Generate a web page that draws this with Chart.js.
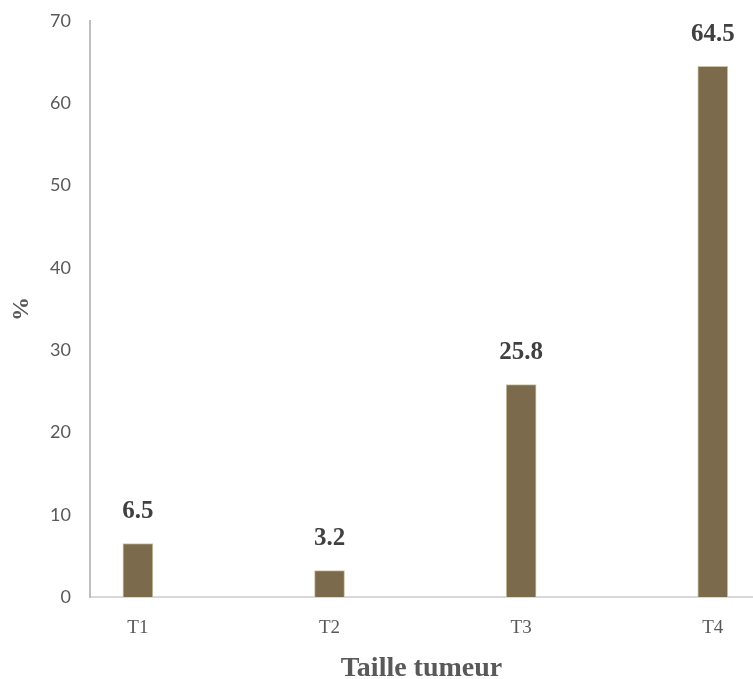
<!DOCTYPE html>
<html>
<head>
<meta charset="utf-8">
<script src="https://cdn.jsdelivr.net/npm/chart.js@4/dist/chart.umd.min.js"></script>
<style>
  html, body { margin: 0; padding: 0; background: #ffffff; }
  #c { display: block; }
</style>
</head>
<body>
<canvas id="c" width="753" height="679"></canvas>
<script>
const categories = ["T1", "T2", "T3", "T4"];
const percentages = [6.5, 3.2, 25.8, 64.5];
const valueLabels = ["6.5", "3.2", "25.8", "64.5"];
const yTicks = [0, 10, 20, 30, 40, 50, 60, 70];
const xTitle = "Taille tumeur";
const yTitle = "%";

const points = categories.map((c, i) => ({ x: i, y: percentages[i] }));

const labelPlugin = {
  id: 'valueLabels',
  afterDatasetsDraw(chart) {
    const ctx = chart.ctx;
    const meta = chart.getDatasetMeta(0);
    ctx.save();
    ctx.font = 'bold 25px "Liberation Serif", "DejaVu Serif", serif';
    ctx.fillStyle = '#404040';
    ctx.textAlign = 'center';
    ctx.textBaseline = 'middle';
    meta.data.forEach((bar, i) => {
      ctx.fillText(valueLabels[i], bar.x, bar.y - 32);
    });
    ctx.restore();
  }
};

new Chart(document.getElementById('c'), {
  type: 'bar',
  data: {
    datasets: [{
      data: points,
      backgroundColor: '#7b6a4b',
      borderColor: '#cfc4a8',
      borderWidth: 1,
      barThickness: 30
    }]
  },
  options: {
    responsive: false,
    animation: false,
    devicePixelRatio: 1,
    layout: { padding: { top: 21, right: 0, bottom: 0, left: 0 } },
    plugins: {
      legend: { display: false },
      tooltip: { enabled: false }
    },
    scales: {
      x: {
        type: 'linear',
        offset: false,
        min: -0.25,
        max: 3.21,
        grid: { display: false, drawTicks: false, offset: false },
        border: { display: true, color: '#d9d9d9', width: 2 },
        afterBuildTicks(scale) {
          scale.ticks = categories.map((c, i) => ({ value: i }));
        },
        afterFit(scale) { scale.height = 82; },
        ticks: {
          autoSkip: false,
          maxRotation: 0,
          padding: 20,
          color: '#595959',
          font: { family: '"Liberation Serif", "DejaVu Serif", serif', size: 19 },
          callback: (v) => categories[v] ?? ''
        },
        title: {
          display: true,
          text: xTitle,
          color: '#595959',
          padding: { top: 0, bottom: 0 },
          font: { family: '"Liberation Serif", "DejaVu Serif", serif', size: 28, weight: 'bold', lineHeight: 0.75 }
        }
      },
      y: {
        min: 0,
        max: 70,
        grid: { display: false, drawTicks: true, tickLength: 19 },
        border: { display: true, color: '#bfbfbf', width: 2 },
        afterBuildTicks(scale) {
          scale.ticks = yTicks.map(v => ({ value: v }));
        },
        afterFit(scale) { scale.width = 90; },
        ticks: {
          padding: 0,
          color: '#595959',
          font: { family: 'Lato, "Open Sans", sans-serif', size: 18 }
        },
        title: {
          display: true,
          text: yTitle,
          color: '#595959',
          padding: { top: 7, bottom: 0 },
          font: { family: '"Liberation Serif", "DejaVu Serif", serif', size: 24, weight: 'bold', lineHeight: 1.2 }
        }
      }
    }
  },
  plugins: [labelPlugin]
});
</script>
</body>
</html>
